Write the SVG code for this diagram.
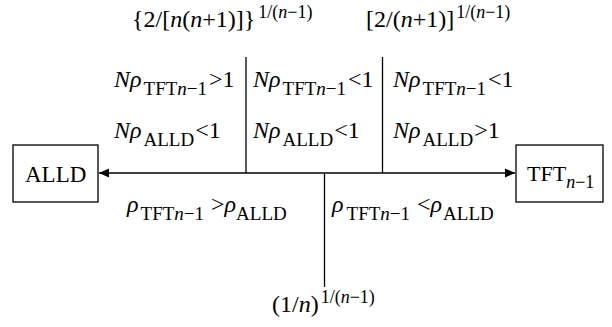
<svg xmlns="http://www.w3.org/2000/svg" width="612" height="327" viewBox="0 0 612 327">
<style>
text{font-family:"Liberation Serif","Times New Roman",serif;font-size:24px;fill:#000}
.i{font-style:italic}
.s{font-size:19px}
.p{font-size:18px}
.box{fill:#fff;stroke:#000;stroke-width:1.3}
.ln{stroke:#000;stroke-width:1.3;fill:none}
</style>
<defs>
<marker id="ah" viewBox="0 0 10 10" refX="10" refY="5" markerWidth="10" markerHeight="10" markerUnits="userSpaceOnUse" orient="auto-start-reverse">
<path d="M0,0.5 L10,5 L0,9.5 z" fill="#000"/>
</marker>
</defs>
<g id="connectors">
<line class="ln" x1="99" y1="173" x2="515" y2="173" marker-start="url(#ah)" marker-end="url(#ah)"/>
<line class="ln" x1="246" y1="57" x2="246" y2="173"/>
<line class="ln" x1="382.5" y1="57" x2="382.5" y2="173"/>
<line class="ln" x1="324.5" y1="173" x2="324.5" y2="287"/>
</g>
<g id="node-alld">
<rect class="box" x="13" y="145" width="85" height="57"/>
<text x="25" y="182" style="font-size:23px">ALLD</text>
</g>
<g id="node-tft">
<rect class="box" x="516" y="145" width="87" height="57"/>
<text x="527" y="181" style="font-size:22px">TFT<tspan class="i" dy="7" style="font-size:18px">n</tspan><tspan style="font-size:18px">−1</tspan></text>
</g>
<g id="thresholds">
<text x="132" y="27">{2/[<tspan class="i">n</tspan>(<tspan class="i">n</tspan>+1)]}<tspan class="p" dx="3" dy="-9">1/(<tspan class="i">n</tspan>−1)</tspan></text>
<text x="366" y="27">[2/(<tspan class="i">n</tspan>+1)]<tspan class="p" dx="2" dy="-9">1/(<tspan class="i">n</tspan>−1)</tspan></text>
<text x="272" y="312">(1/<tspan class="i">n</tspan>)<tspan class="p" dx="2" dy="-9">1/(<tspan class="i">n</tspan>−1)</tspan></text>
</g>
<g id="conditions">
<text x="114" y="87"><tspan class="i">Nρ</tspan><tspan class="s" dx="2" dy="8">TFT</tspan><tspan class="s i">n</tspan><tspan class="s">−1</tspan><tspan dx="2" dy="-8">&gt;1</tspan></text>
<text x="253" y="87"><tspan class="i">Nρ</tspan><tspan class="s" dx="2" dy="8">TFT</tspan><tspan class="s i">n</tspan><tspan class="s">−1</tspan><tspan dx="2" dy="-8">&lt;1</tspan></text>
<text x="393" y="87"><tspan class="i">Nρ</tspan><tspan class="s" dx="2" dy="8">TFT</tspan><tspan class="s i">n</tspan><tspan class="s">−1</tspan><tspan dx="2" dy="-8">&lt;1</tspan></text>
<text x="114" y="138"><tspan class="i">Nρ</tspan><tspan class="s" dx="2" dy="8">ALLD</tspan><tspan dx="1" dy="-8">&lt;1</tspan></text>
<text x="253" y="138"><tspan class="i">Nρ</tspan><tspan class="s" dx="2" dy="8">ALLD</tspan><tspan dx="1" dy="-8">&lt;1</tspan></text>
<text x="393" y="138"><tspan class="i">Nρ</tspan><tspan class="s" dx="2" dy="8">ALLD</tspan><tspan dx="1" dy="-8">&gt;1</tspan></text>
<text x="127" y="212"><tspan class="i">ρ</tspan><tspan class="s" dx="2" dy="8">TFT</tspan><tspan class="s i">n</tspan><tspan class="s">−1</tspan><tspan dx="1" dy="-8"> &gt;</tspan><tspan class="i">ρ</tspan><tspan class="s" dy="8">ALLD</tspan></text>
<text x="332" y="212"><tspan class="i">ρ</tspan><tspan class="s" dx="3" dy="8">TFT</tspan><tspan class="s i">n</tspan><tspan class="s">−1</tspan><tspan dx="1" dy="-8"> &lt;</tspan><tspan class="i">ρ</tspan><tspan class="s" dx="1" dy="8">ALLD</tspan></text>
</g>
</svg>
